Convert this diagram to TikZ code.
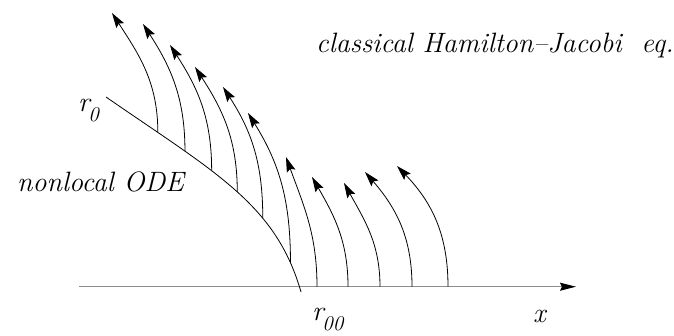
\documentclass[tikz,border=0pt]{standalone}
\usetikzlibrary{arrows.meta}
\tikzset{
  flow/.style={line width=0.8pt, -{Stealth[length=15pt,width=9pt,inset=2.5pt]}},
  bound/.style={line width=0.8pt},
  axisline/.style={line width=1.5pt, draw=black!45, -{Stealth[length=16pt,width=8pt,inset=2pt,color=black]}},
  lbl/.style={font=\fontsize{28}{33}\selectfont\itshape, inner sep=0pt, anchor=base west},
}
\newcommand{\subidx}[1]{\kern-1.5pt\raisebox{-10pt}{\fontsize{21}{23}\selectfont\itshape #1}}
\begin{document}
\begin{tikzpicture}[x=1pt,y=1pt]
\useasboundingbox (0,0) rectangle (674,335);
% labels
\node[lbl] (hj) at (316,282) {classical Hamilton--Jacobi\ \ eq.};
\node[lbl] (ode) at (17,143) {nonlocal ODE};
\node[lbl] (r0) at (78,223) {r\subidx{0}};
\node[lbl] (r00) at (312,15) {r\subidx{00}};
\node[lbl] (xl) at (533,13) {x};
% axis
\coordinate (a0) at (79,48.3);
\coordinate (a1) at (576,48.3);
\draw[axisline] (a0) -- (a1);
% boundary curve
\coordinate (c0) at (106,238);
\coordinate (c1) at (301,43);
\draw[bound] (c0) .. controls (216,162) and (276,130.5) .. (c1)
  coordinate[pos=0.17] (b1)
  coordinate[pos=0.272] (b2)
  coordinate[pos=0.385] (b3)
  coordinate[pos=0.51] (b4)
  coordinate[pos=0.66] (b5)
  coordinate[pos=0.88] (b6);
% bases on axis
\coordinate (b7) at (317,48.3);
\coordinate (b8) at (348,48.3);
\coordinate (b9) at (380,48.3);
\coordinate (b10) at (412,48.3);
\coordinate (b11) at (448,48.3);
% tips
\coordinate (t1) at (112,322);
\coordinate (t2) at (143,311);
\coordinate (t3) at (170,290);
\coordinate (t4) at (195,268);
\coordinate (t5) at (223,248);
\coordinate (t6) at (248,222);
\coordinate (t7) at (286,178);
\coordinate (t8) at (312,158);
\coordinate (t9) at (344,152);
\coordinate (t10) at (365,163);
\coordinate (t11) at (397,169);
% characteristics
\draw[flow] (b1) to[out=90,in=-57] (t1);
\draw[flow] (b2) to[out=90,in=-57] (t2);
\draw[flow] (b3) to[out=90,in=-57] (t3);
\draw[flow] (b4) to[out=90,in=-57] (t4);
\draw[flow] (b5) to[out=90,in=-57] (t5);
\draw[flow] (b6) to[out=90,in=-58] (t6);
\draw[flow] (b7) to[out=90,in=-70] (t7);
\draw[flow] (b8) to[out=90,in=-60] (t8);
\draw[flow] (b9) to[out=90,in=-61] (t9);
\draw[flow] (b10) to[out=90,in=-49] (t10);
\draw[flow] (b11) to[out=90,in=-46] (t11);
\end{tikzpicture}
\end{document}
